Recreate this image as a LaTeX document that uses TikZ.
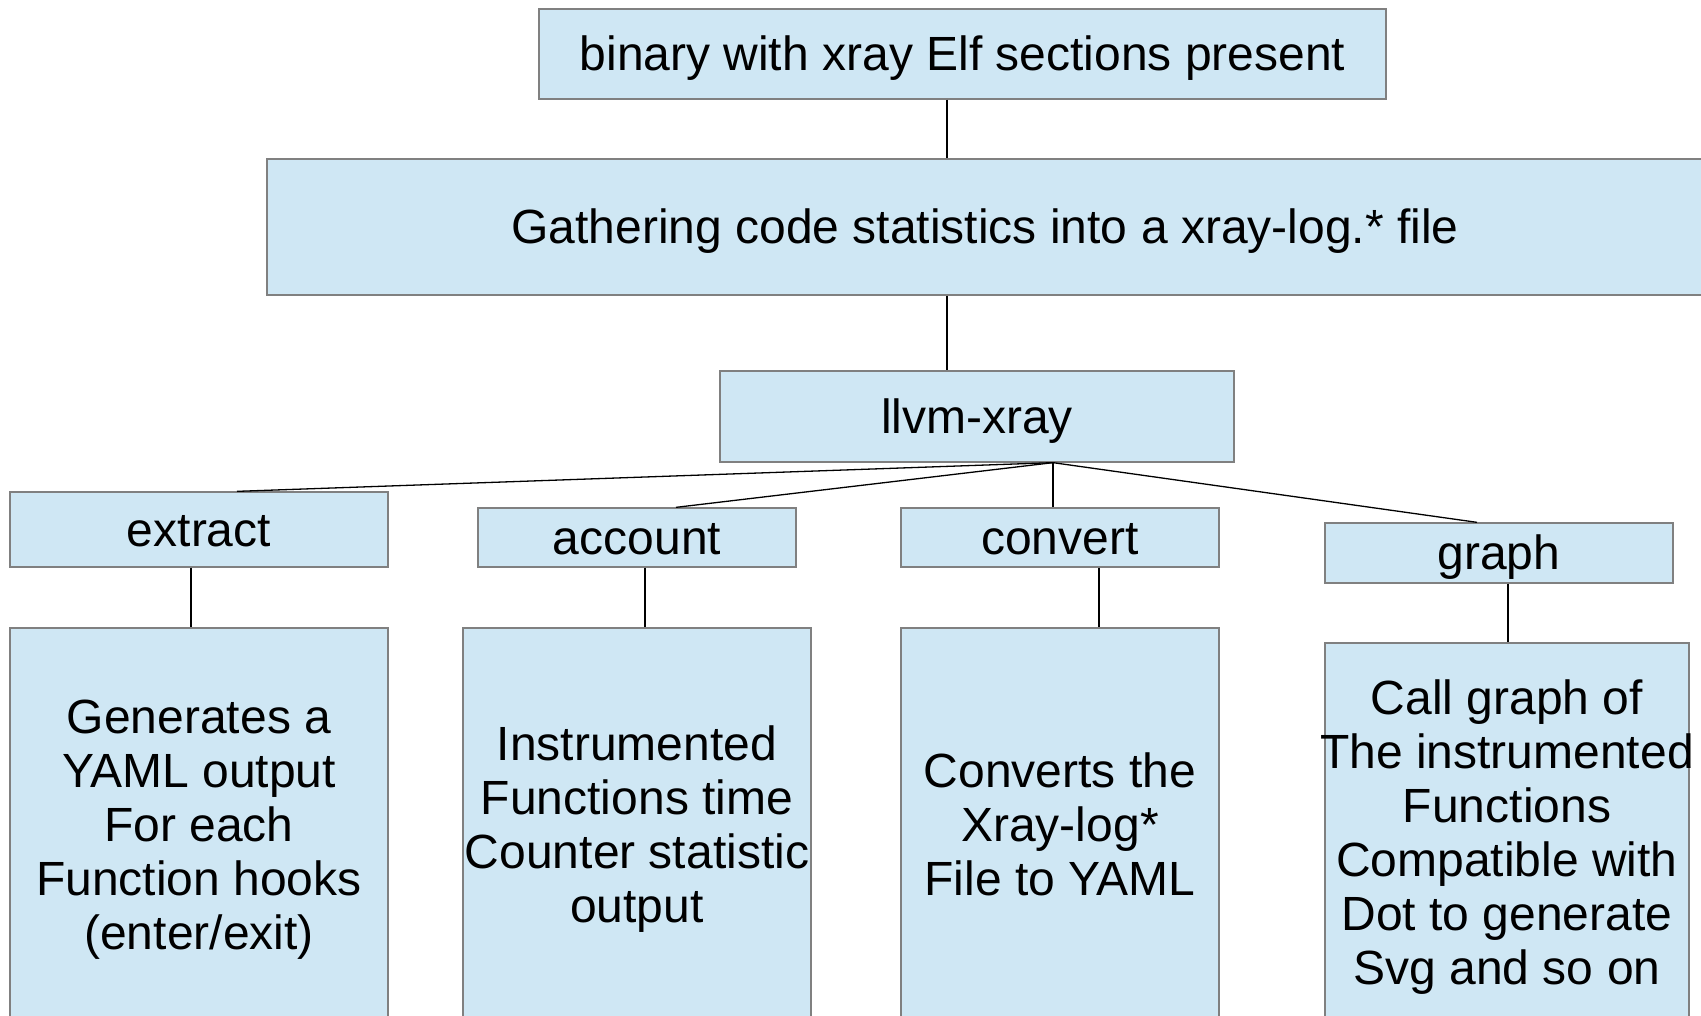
\documentclass[tikz,border=0pt]{standalone}
\usepackage{fontspec}
\setmainfont{Liberation Sans}
\usepackage{tikz}
\usetikzlibrary{shapes}

\definecolor{boxfill}{RGB}{207,231,244}
\definecolor{boxline}{RGB}{128,128,128}

\tikzset{
	box/.style={rectangle,draw=boxline,fill=boxfill,line width=1.3pt,inner sep=0pt,align=center,
		font=\fontsize{48}{54}\selectfont,text height=43.4pt,text depth=10.2pt},
	lines3/.style={text height=151.4pt},
	lines4/.style={text height=205.4pt},
	lines5/.style={text height=259.4pt},
	lines6/.style={text height=313.4pt},
	link/.style={draw=black,line width=1.3pt}
}

\begin{document}
\begin{tikzpicture}[x=1pt,y=-1pt]
	\useasboundingbox (0,0) rectangle (1701,1016);
	
		\node[box,minimum width=847,minimum height=90] (bin) at (962.5,54) {binary with xray Elf sections present};
		\node[box,minimum width=1436,minimum height=136] (gather) at (985,227) {Gathering code statistics into a xray-log.* file};
		\node[box,minimum width=514,minimum height=91] (llvm) at (977,416.5) {llvm-xray};
		
		\node[box,minimum width=378,minimum height=75] (extract) at (199,529.5) {extract};
		\node[box,minimum width=318,minimum height=59] (account) at (637,537.5) {account};
		\node[box,minimum width=318,minimum height=59] (convert) at (1060,537.5) {convert};
		\node[box,minimum width=348,minimum height=60] (graph) at (1499,553) {graph};
		
		\node[box,lines5,minimum width=378,minimum height=393] (extractdesc) at (199,824.5) {Generates a\\YAML output\\For each\\Function hooks\\(enter/exit)};
		\node[box,lines4,minimum width=348,minimum height=393] (accountdesc) at (637,824.5) {Instrumented\\Functions time\\Counter statistic\\output};
		\node[box,lines3,minimum width=318,minimum height=393] (convertdesc) at (1060,824.5) {Converts the\\Xray-log*\\File to YAML};
		\node[box,lines6,minimum width=364,minimum height=380] (graphdesc) at (1507,833) {Call graph of\\\makebox[330pt]{The instrumented}\\Functions\\Compatible with\\Dot to generate\\Svg and so on};
		
		\path[link] ([xshift=-15.5]bin.south) -- ([xshift=-38]gather.north);
		\path[link] ([xshift=-38]gather.south) -- ([xshift=-30]llvm.north);
		
		\path[link] ([xshift=76]llvm.south) -- ([xshift=38]extract.north);
		\path[link] ([xshift=76]llvm.south) -- ([xshift=39]account.north);
		\path[link] ([xshift=76]llvm.south) -- ([xshift=-7]convert.north);
		\path[link] ([xshift=76]llvm.south) -- ([xshift=-22]graph.north);
		
		\path[link] ([xshift=-8]extract.south) -- ([xshift=-8]extractdesc.north);
		\path[link] ([xshift=8]account.south) -- ([xshift=8]accountdesc.north);
		\path[link] ([xshift=39]convert.south) -- ([xshift=39]convertdesc.north);
		\path[link] ([xshift=9]graph.south) -- ([xshift=1]graphdesc.north);
		
	\end{tikzpicture}
\end{document}
